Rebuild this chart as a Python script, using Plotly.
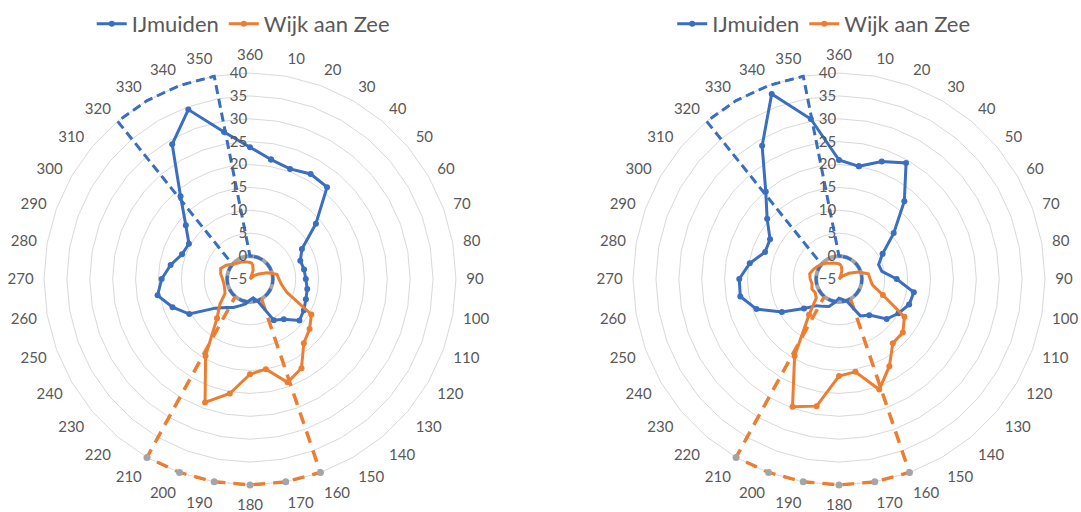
import plotly.graph_objects as go

# ---- data ----
categories = ["10", "20", "30", "40", "50", "60", "70", "80", "90", "100", "110", "120",
              "130", "140", "150", "160", "170", "180", "190", "200", "210", "220", "230", "240",
              "250", "260", "270", "280", "290", "300", "310", "320", "330", "340", "350", "360"]
axis_order = ["360"] + categories[:-1]

ijm_left = [21.5, 20.6, 21.5, 21.2, 13.8, 8.1, 6.7, 7.0, 7.2, 7.7, 8.0, 8.6,
            9.1, 6.5, 5.4, 0.3, -0.8, -0.4, 0.5, 1.2, 2.2, 3.1, 4.9, 10.3,
            13.0, 15.5, 14.3, 12.6, 10.8, 10.4, 13.3, 18.6, 29.0, 34.4, 27.6, 23.8]
wijk_left = [-1.6, -3.0, -4.6, -5.0, -3.8, -2.8, -1.0, 1.0, 1.3, 2.0, 3.6, 10.5,
             12.0, 13.3, 17.5, 19.0, 15.0, 15.8, 20.4, 23.7, 14.4, 6.2, 3.6, 1.3,
             0.9, 0.8, 1.0, 1.5, 1.8, 1.0, 0.0, -0.5, -0.8, -1.0, -1.2, -1.4]

ijm_right = [20.0, 22.3, 24.3, 17.2, 10.6, 6.0, 4.2, 4.5, 7.6, 11.6, 11.3, 10.0,
             8.6, 5.3, 4.3, 0.2, -0.5, -0.8, 0.2, 1.4, 1.9, 2.6, 5.0, 9.4,
             14.2, 16.9, 16.8, 14.8, 12.2, 12.4, 15.5, 19.9, 28.6, 38.0, 30.5, 21.0]
wijk_right = [-2.0, -3.2, -4.5, -5.0, -4.0, -2.5, -0.5, 1.5, 1.8, 2.4, 5.2, 11.5,
              13.2, 13.3, 17.0, 20.7, 15.6, 16.2, 23.2, 24.7, 14.4, 5.2, 1.5, 1.0,
              1.3, 1.0, 1.3, 1.5, 1.0, 0.5, 0.0, -0.5, -1.0, -1.3, -1.5, -1.7]

ijm_sector = [0, 0, 0, 0, 0, 0, 0, 0, 0, 0, 0, 0,
              0, 0, 0, 0, 0, 0, 0, 0, 0, 0, 0, 0,
              0, 0, 0, 0, 0, 0, 0, 40, 40, 40, 40, 0]
wijk_sector_cats = ["150", "160", "170", "180", "190", "200", "210", "220"]
wijk_sector_vals = [0, 40, 40, 40, 40, 40, 40, 0]
grey_cats = ["160", "170", "180", "190", "200", "210"]
grey_vals = [40, 40, 40, 40, 40, 40]
zero_ring = [0] * 36

BLUE = "#3A6EC0"
ORANGE = "#ED7D31"
GREY = "#A5A5A5"
TXT = "#595959"
FONT = "Lato"


def closed(v):
    return list(v) + list(v[:1])


fig = go.Figure()

for sub, ijm, wijk, leg in (("polar", ijm_left, wijk_left, "legend"),
                            ("polar2", ijm_right, wijk_right, "legend2")):
    fig.add_trace(go.Scatterpolar(r=closed(zero_ring), theta=closed(categories), mode="lines",
                                  line=dict(color=GREY, width=4), subplot=sub, cliponaxis=False,
                                  showlegend=False, hoverinfo="skip"))
    fig.add_trace(go.Scatterpolar(r=closed(ijm_sector), theta=closed(categories), mode="lines",
                                  line=dict(color=BLUE, width=3, dash="9px,5px"), subplot=sub,
                                  cliponaxis=False, showlegend=False, hoverinfo="skip"))
    fig.add_trace(go.Scatterpolar(r=wijk_sector_vals, theta=wijk_sector_cats, mode="lines",
                                  line=dict(color=ORANGE, width=3.5, dash="12px,8px"), subplot=sub,
                                  cliponaxis=False, showlegend=False, hoverinfo="skip"))
    fig.add_trace(go.Scatterpolar(r=grey_vals, theta=grey_cats, mode="markers",
                                  marker=dict(color=GREY, size=7), subplot=sub,
                                  cliponaxis=False, showlegend=False, hoverinfo="skip"))
    fig.add_trace(go.Scatterpolar(r=closed(ijm), theta=closed(categories), mode="lines+markers",
                                  name="IJmuiden", line=dict(color=BLUE, width=3),
                                  marker=dict(color=BLUE, size=6), subplot=sub, legend=leg,
                                  cliponaxis=False))
    fig.add_trace(go.Scatterpolar(r=closed(wijk), theta=closed(categories), mode="lines+markers",
                                  name="Wijk aan Zee", line=dict(color=ORANGE, width=3),
                                  marker=dict(color=ORANGE, size=6), subplot=sub, legend=leg,
                                  cliponaxis=False))

polar_common = dict(
    bgcolor="white",
    gridshape="linear",
    radialaxis=dict(range=[-5, 40.4], tickvals=[-5, 0, 5, 10, 15, 20, 25, 30, 35, 40],
                    angle=90, tickangle=90,
                    side="counterclockwise", showline=False, ticks="",
                    gridcolor="#D9D9D9", gridwidth=1,
                    tickfont=dict(family=FONT, size=15, color=TXT)),
    angularaxis=dict(type="category", categoryorder="array", categoryarray=axis_order,
                     rotation=90, direction="clockwise", showgrid=False,
                     showline=False,
                     ticks="outside", ticklen=5, tickcolor="rgba(0,0,0,0)",
                     tickfont=dict(family=FONT, size=15, color=TXT)),
)

fig.update_layout(
    width=1081, height=512,
    margin=dict(l=0, r=0, t=0, b=0),
    paper_bgcolor="white",
    font=dict(family=FONT, color=TXT),
    polar=dict(domain=dict(x=[0.0390, 0.4235], y=[0.0492, 0.8609]), **polar_common),
    polar2=dict(domain=dict(x=[0.5839, 0.9684], y=[0.0492, 0.8609]), **polar_common),
    legend=dict(orientation="h", x=0.225, y=0.953, xanchor="center", yanchor="middle",
                font=dict(family=FONT, size=22, color=TXT), bgcolor="rgba(0,0,0,0)"),
    legend2=dict(orientation="h", x=0.762, y=0.953, xanchor="center", yanchor="middle",
                 font=dict(family=FONT, size=22, color=TXT), bgcolor="rgba(0,0,0,0)"),
)

fig.write_html("out.html", config={"displayModeBar": False},
               post_script="document.body.style.margin='0';")
